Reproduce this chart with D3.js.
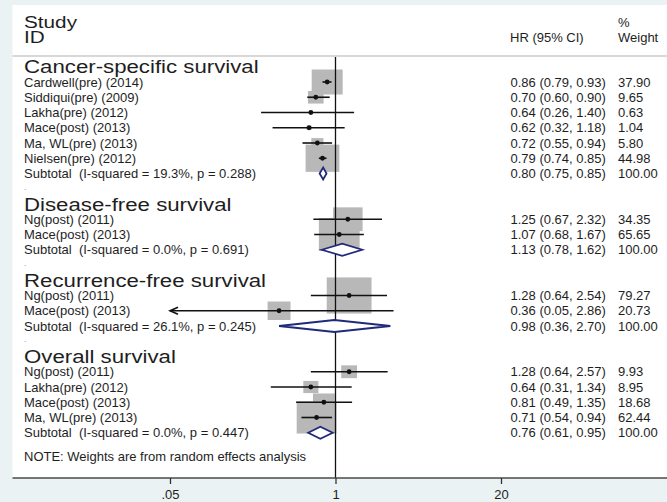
<!DOCTYPE html>
<html>
<head>
<meta charset="utf-8">
<script src="https://cdn.jsdelivr.net/npm/d3@7"></script>
<style>
  html, body { margin: 0; padding: 0; background: #eaf2f3; }
  svg { display: block; font-family: "Liberation Sans", Arial, sans-serif; }
  text { white-space: pre; }
</style>
</head>
<body>
<svg id="chart" width="667" height="502"></svg>
<script>
// Subgroup headings
const groupNames = ["Cancer-specific survival", "Disease-free survival", "Recurrence-free survival", "Overall survival"];

// Individual studies
const studyGroup  = [0, 0, 0, 0, 0, 0, 1, 1, 2, 2, 3, 3, 3, 3];
const studyLabels = ["Cardwell(pre) (2014)", "Siddiqui(pre) (2009)", "Lakha(pre) (2012)", "Mace(post) (2013)",
                     "Ma, WL(pre) (2013)", "Nielsen(pre) (2012)",
                     "Ng(post) (2011)", "Mace(post) (2013)",
                     "Ng(post) (2011)", "Mace(post) (2013)",
                     "Ng(post) (2011)", "Lakha(pre) (2012)", "Mace(post) (2013)", "Ma, WL(pre) (2013)"];
const studyHR     = [0.86, 0.70, 0.64, 0.62, 0.72, 0.79, 1.25, 1.07, 1.28, 0.36, 1.28, 0.64, 0.81, 0.71];
const studyLow    = [0.79, 0.60, 0.26, 0.32, 0.55, 0.74, 0.67, 0.68, 0.64, 0.05, 0.64, 0.31, 0.49, 0.54];
const studyHigh   = [0.93, 0.90, 1.40, 1.18, 0.94, 0.85, 2.32, 1.67, 2.54, 2.86, 2.57, 1.34, 1.35, 0.94];
const studyWeight = [37.90, 9.65, 0.63, 1.04, 5.80, 44.98, 34.35, 65.65, 79.27, 20.73, 9.93, 8.95, 18.68, 62.44];

// Pooled subgroup estimates
const subtotalHR   = [0.80, 1.13, 0.98, 0.76];
const subtotalLow  = [0.75, 0.78, 0.36, 0.61];
const subtotalHigh = [0.85, 1.62, 2.70, 0.95];
const subtotalI2   = ["19.3", "0.0", "26.1", "0.0"];
const subtotalP    = ["0.288", "0.691", "0.245", "0.447"];

// Axis
const tickValues = [0.05, 1, 20];
const tickLabels = [".05", "1", "20"];

const W = 667, H = 502;
const svg = d3.select("#chart");
const txt = "#1e1e1e";

// Build the row layout: heading, studies, subtotal, blank spacer
const rows = [];
groupNames.forEach((g, gi) => {
  rows.push({ type: "heading", label: g });
  studyLabels.forEach((lab, i) => {
    if (studyGroup[i] === gi) {
      rows.push({ type: "study", label: lab, hr: studyHR[i], lo: studyLow[i], hi: studyHigh[i], w: studyWeight[i] });
    }
  });
  rows.push({ type: "subtotal",
    label: "Subtotal  (I-squared = " + subtotalI2[gi] + "%, p = " + subtotalP[gi] + ")",
    hr: subtotalHR[gi], lo: subtotalLow[gi], hi: subtotalHigh[gi], w: 100 });
  if (gi < groupNames.length - 1) rows.push({ type: "spacer" });
});

const rowStep = 15.25;
const y = d3.scaleLinear().domain([0, 1]).range([66.75, 66.75 + rowStep]);
const x = d3.scaleLog().domain([0.05, 20]).range([170, 501]);

const panelTop = 5, axisY = 478, panelLeft = 12.5;

// Plot panel
svg.append("rect").attr("x", panelLeft).attr("y", panelTop)
  .attr("width", W - panelLeft).attr("height", axisY - panelTop).attr("fill", "#ffffff");

// Column headers
const hdr = svg.append("g").attr("fill", txt);
hdr.append("text").attr("transform", "translate(24,28) scale(1.22,1)").attr("font-size", 17).text("Study");
hdr.append("text").attr("transform", "translate(24,43) scale(1.22,1)").attr("font-size", 17).text("ID");
hdr.append("text").attr("x", 510).attr("y", 42).attr("font-size", 13).text("HR (95% CI)");
hdr.append("text").attr("x", 618).attr("y", 27).attr("font-size", 13).text("%");
hdr.append("text").attr("x", 618).attr("y", 42).attr("font-size", 13).text("Weight");

svg.append("line").attr("x1", panelLeft).attr("x2", W).attr("y1", 56).attr("y2", 56)
  .attr("stroke", "#d8d8d8").attr("stroke-width", 2);

// Weight boxes (area proportional to weight)
const boxK = 4.06, boxAspect = 1.24;
const studyRows = rows.map((r, i) => ({ ...r, i })).filter(r => r.type === "study");
svg.append("g").selectAll("rect").data(studyRows).join("rect")
  .attr("x", d => x(d.hr) - boxAspect * boxK * Math.sqrt(d.w) / 2)
  .attr("y", d => y(d.i) - boxK * Math.sqrt(d.w) / 2)
  .attr("width", d => boxAspect * boxK * Math.sqrt(d.w))
  .attr("height", d => boxK * Math.sqrt(d.w))
  .attr("fill", "#b8b8b8");

// Line of no effect
svg.append("line").attr("x1", x(1)).attr("x2", x(1)).attr("y1", 57).attr("y2", axisY)
  .attr("stroke", "#111").attr("stroke-width", 1.3);

// Confidence intervals
const [xmin] = x.domain();
svg.append("g").selectAll("line").data(studyRows).join("line")
  .attr("x1", d => x(Math.max(d.lo, xmin))).attr("x2", d => x(d.hi))
  .attr("y1", d => y(d.i)).attr("y2", d => y(d.i))
  .attr("stroke", "#111").attr("stroke-width", 1.6);

// Arrowheads where the interval runs past the axis
svg.append("g").selectAll("path").data(studyRows.filter(d => d.lo <= xmin)).join("path")
  .attr("d", d => {
    const x0 = x(xmin), y0 = y(d.i);
    return `M${x0 + 8},${y0 - 3.5}L${x0},${y0}L${x0 + 8},${y0 + 3.5}`;
  })
  .attr("fill", "none").attr("stroke", "#111").attr("stroke-width", 1.6);

// Point estimates
svg.append("g").selectAll("circle").data(studyRows).join("circle")
  .attr("cx", d => x(d.hr)).attr("cy", d => y(d.i)).attr("r", 2.4).attr("fill", "#111");

// Pooled diamonds
const subRows = rows.map((r, i) => ({ ...r, i })).filter(r => r.type === "subtotal");
svg.append("g").selectAll("path").data(subRows).join("path")
  .attr("d", d => {
    const yc = y(d.i), h = 6;
    return `M${x(d.lo)},${yc}L${x(d.hr)},${yc - h}L${x(d.hi)},${yc}L${x(d.hr)},${yc + h}Z`;
  })
  .attr("fill", "#ffffff").attr("stroke", "#1f2a7a").attr("stroke-width", 1.8);

// Left-hand labels
const labels = svg.append("g").attr("fill", txt);
rows.forEach((r, i) => {
  if (r.type === "heading") {
    labels.append("text").attr("transform", `translate(24,${y(i) + 6.6}) scale(1.27,1)`)
      .attr("font-size", 17.5).text(r.label);
  } else if (r.type === "spacer") {
    labels.append("text").attr("x", 24).attr("y", y(i) + 1).attr("font-size", 8).attr("fill", "#777").text(".");
  } else {
    labels.append("text").attr("x", 24).attr("y", y(i) + 4.6).attr("font-size", 13).text(r.label);
  }
});

// Right-hand columns: estimate with CI, and weight
const f2 = d3.format(".2f");
const right = svg.append("g").attr("fill", txt).attr("font-size", 13);
rows.forEach((r, i) => {
  if (r.type === "study" || r.type === "subtotal") {
    right.append("text").attr("x", 510.5).attr("y", y(i) + 4.6)
      .text(`${f2(r.hr)} (${f2(r.lo)}, ${f2(r.hi)})`);
    right.append("text").attr("x", 618).attr("y", y(i) + 4.6).text(f2(r.w));
  }
});

// Note
svg.append("text").attr("x", 24).attr("y", 460.5).attr("font-size", 13).attr("fill", txt)
  .text("NOTE: Weights are from random effects analysis");

// Axis
svg.append("line").attr("x1", panelLeft).attr("x2", W).attr("y1", axisY).attr("y2", axisY)
  .attr("stroke", "#4a4a4a").attr("stroke-width", 1.6);
const axis = d3.axisBottom(x).tickValues(tickValues)
  .tickFormat((d, i) => tickLabels[i]).tickSize(6).tickPadding(6);
const ag = svg.append("g").attr("transform", `translate(0,${axisY})`).call(axis);
ag.select(".domain").remove();
ag.selectAll(".tick line").attr("stroke", "#333").attr("stroke-width", 1.3);
ag.selectAll(".tick text").attr("font-size", 13).attr("fill", txt)
  .attr("font-family", "'Liberation Sans', Arial, sans-serif");
</script>
</body>
</html>
